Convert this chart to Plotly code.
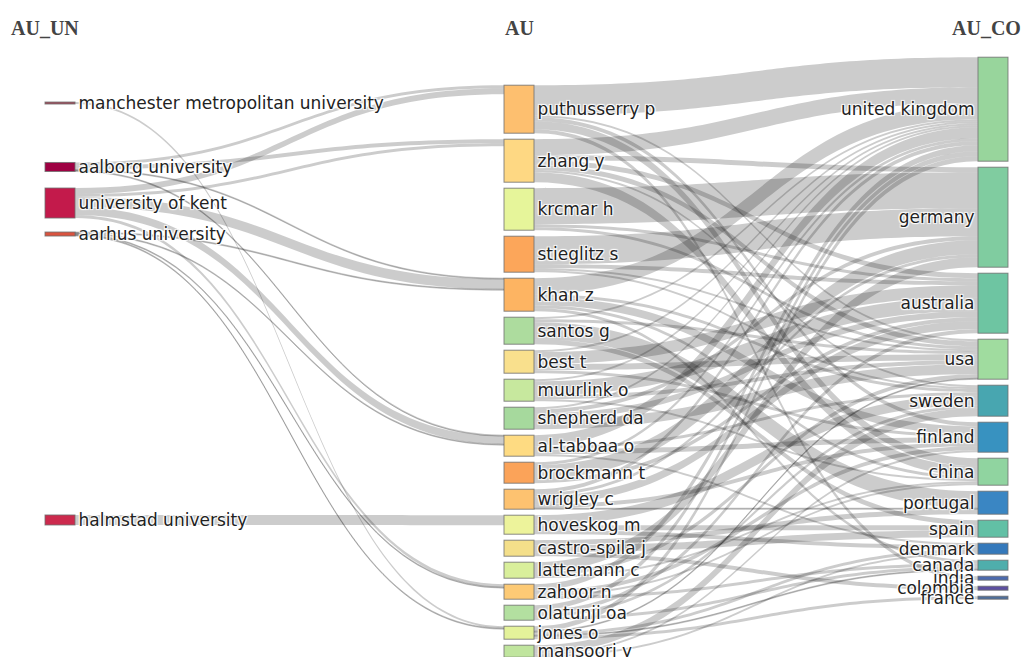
import plotly.graph_objects as go

# ---------------- data ----------------
universities = ["manchester metropolitan university", "aalborg university",
                "university of kent", "aarhus university", "halmstad university"]
authors = ["puthusserry p", "zhang y", "krcmar h", "stieglitz s", "khan z", "santos g",
           "best t", "muurlink o", "shepherd da", "al-tabbaa o", "brockmann t", "wrigley c",
           "hoveskog m", "castro-spila j", "lattemann c", "zahoor n", "olatunji oa",
           "jones o", "mansoori y"]
countries = ["united kingdom", "germany", "australia", "usa", "sweden", "finland", "china",
             "portugal", "spain", "denmark", "canada", "india", "colombia", "france"]

# university -> author links
un_src = ["manchester metropolitan university",
          "aalborg university", "aalborg university", "aalborg university", "aalborg university",
          "university of kent", "university of kent", "university of kent", "university of kent",
          "university of kent",
          "aarhus university", "aarhus university", "aarhus university", "aarhus university",
          "halmstad university"]
un_tgt = ["jones o",
          "puthusserry p", "zhang y", "khan z", "al-tabbaa o",
          "puthusserry p", "zhang y", "khan z", "al-tabbaa o", "zahoor n",
          "khan z", "al-tabbaa o", "zahoor n", "jones o",
          "hoveskog m"]
un_val = [2,
          3, 4, 1, 1,
          6, 3, 10, 8, 3,
          1, 1, 1, 1,
          10]

# author -> country links
au_src = (["puthusserry p"] * 5 + ["zhang y"] * 6 + ["krcmar h"] * 3 + ["stieglitz s"] * 4 +
          ["khan z"] * 5 + ["santos g"] * 4 + ["best t"] * 4 + ["muurlink o"] * 4 +
          ["shepherd da"] * 4 + ["al-tabbaa o"] * 4 + ["brockmann t"] * 3 + ["wrigley c"] * 5 +
          ["hoveskog m"] * 3 + ["castro-spila j"] * 3 + ["lattemann c"] * 3 + ["zahoor n"] * 4 +
          ["olatunji oa"] * 4 + ["jones o"] * 5 + ["mansoori y"] * 3)
au_tgt = ["united kingdom", "china", "india", "finland", "usa",
          "united kingdom", "china", "germany", "australia", "usa", "sweden",
          "germany", "usa", "australia",
          "germany", "australia", "usa", "sweden",
          "united kingdom", "finland", "sweden", "china", "canada",
          "portugal", "spain", "united kingdom", "usa",
          "australia", "usa", "finland", "united kingdom",
          "australia", "usa", "china", "united kingdom",
          "usa", "australia", "germany", "united kingdom",
          "united kingdom", "finland", "sweden", "denmark",
          "germany", "australia", "united kingdom",
          "australia", "united kingdom", "finland", "germany", "portugal",
          "sweden", "spain", "denmark",
          "spain", "portugal", "colombia",
          "germany", "usa", "china",
          "united kingdom", "finland", "canada", "china",
          "united kingdom", "australia", "canada", "sweden",
          "united kingdom", "france", "denmark", "canada", "usa",
          "sweden", "denmark", "finland"]
au_val = [30, 8, 4, 4, 2,
          16, 10, 5, 5, 5, 2,
          36, 3, 3,
          28, 4, 2, 2,
          16, 8, 3, 3, 3,
          17, 5, 2, 3,
          12, 6, 3, 2,
          14, 4, 2, 2,
          10, 6, 4, 2,
          11, 5, 3, 2,
          14, 4, 3,
          8, 4, 4, 3, 1,
          10, 5, 4,
          7, 5, 4,
          10, 4, 2,
          6, 4, 3, 2,
          5, 4, 3, 3,
          5, 3, 3, 1, 1,
          8, 2, 2]

# ---------------- layout / styles ----------------
FIG_W, FIG_H = 1027, 657
M_L, M_R, M_T, M_B = 45, 34, 55, 60
PLOT_W = FIG_W - M_L - M_R
PLOT_H = FIG_H - M_T - M_B
THICK = 30
PAD = 6
TOP_ANCHOR = 0.1   # columns 2 and 3 hang from this normalised level

# vertical placement (normalised centres) of the first-column nodes
un_pos_y = [0.0886, 0.2066, 0.2731, 0.3303, 0.8579]

un_colors = ["#a04a5a", "#9e0142", "#c31a4b", "#d9533f", "#cc2a4d"]
au_colors = ["#fdbf6f", "#fed883", "#e6f59a", "#fca65a", "#fdb462", "#addc9e", "#f9e08d",
             "#c7e89e", "#a6d99d", "#fedb82", "#fba359", "#fdc270", "#edf39b", "#f4df8a",
             "#d9ef9b", "#fdca75", "#b3e0a0", "#e4f29a", "#c0e59e"]
co_colors = ["#98d59c", "#80cca0", "#6ec5a2", "#a0dc9f", "#48a6b0", "#3892c0", "#90d4a0",
             "#3a86c3", "#62c0a5", "#3579bb", "#4faeac", "#4c6aad", "#5d4fa0", "#4f6f9a"]

labels = universities + authors + countries
idx = {name: i for i, name in enumerate(labels)}
colors = un_colors + au_colors + co_colors

source = [idx[s] for s in un_src] + [idx[s] for s in au_src]
target = [idx[t] for t in un_tgt] + [idx[t] for t in au_tgt]
value = un_val + au_val

# node totals = max(inflow, outflow)
inflow = [0.0] * len(labels)
outflow = [0.0] * len(labels)
for s, t, v in zip(source, target, value):
    outflow[s] += v
    inflow[t] += v
node_total = [max(a, b) for a, b in zip(inflow, outflow)]

# pixel scale used by the sankey layout (country column is the binding one)
ky = (PLOT_H - (len(countries) - 1) * PAD) / sum(node_total[idx[c]] for c in countries)


def stacked_centres(names):
    hs = [ky * node_total[idx[n]] for n in names]
    top = TOP_ANCHOR * PLOT_H - hs[0] / 2
    ys = []
    for h in hs:
        ys.append((top + h / 2) / PLOT_H)
        top += h + PAD
    return ys


left_x = (THICK / 2) / PLOT_W
node_x = [left_x] * len(universities) + [0.5] * len(authors) + [1.0] * len(countries)
node_y = un_pos_y + stacked_centres(authors) + stacked_centres(countries)

fig = go.Figure(go.Sankey(
    arrangement="snap",
    node=dict(
        label=labels,
        color=colors,
        x=node_x,
        y=node_y,
        pad=PAD,
        thickness=THICK,
        line=dict(color="rgba(110,110,110,0.8)", width=1),
    ),
    link=dict(
        source=source,
        target=target,
        value=value,
        color="rgba(0,0,0,0.2)",
    ),
    textfont=dict(family="DejaVu Sans", size=17, color="#222222"),
))

titles = ["AU_UN", "AU", "AU_CO"]
title_shift = [0, 0, -7]
for xpos, t, sh in zip([0, 0.5, 1], titles, title_shift):
    fig.add_annotation(x=xpos, y=1.0498, xref="paper", yref="paper", text="<b>%s</b>" % t,
                       showarrow=False, xanchor="center", yanchor="middle", xshift=sh,
                       font=dict(family="Liberation Serif", size=20, color="#444444"))

fig.update_layout(
    width=FIG_W, height=FIG_H,
    margin=dict(l=M_L, r=M_R, t=M_T, b=M_B),
    paper_bgcolor="white",
    plot_bgcolor="white",
)

fig.write_html("out.html",
               config={"displayModeBar": False},
               post_script="document.body.style.margin='0px';"
                           "document.body.style.overflow='hidden';")
